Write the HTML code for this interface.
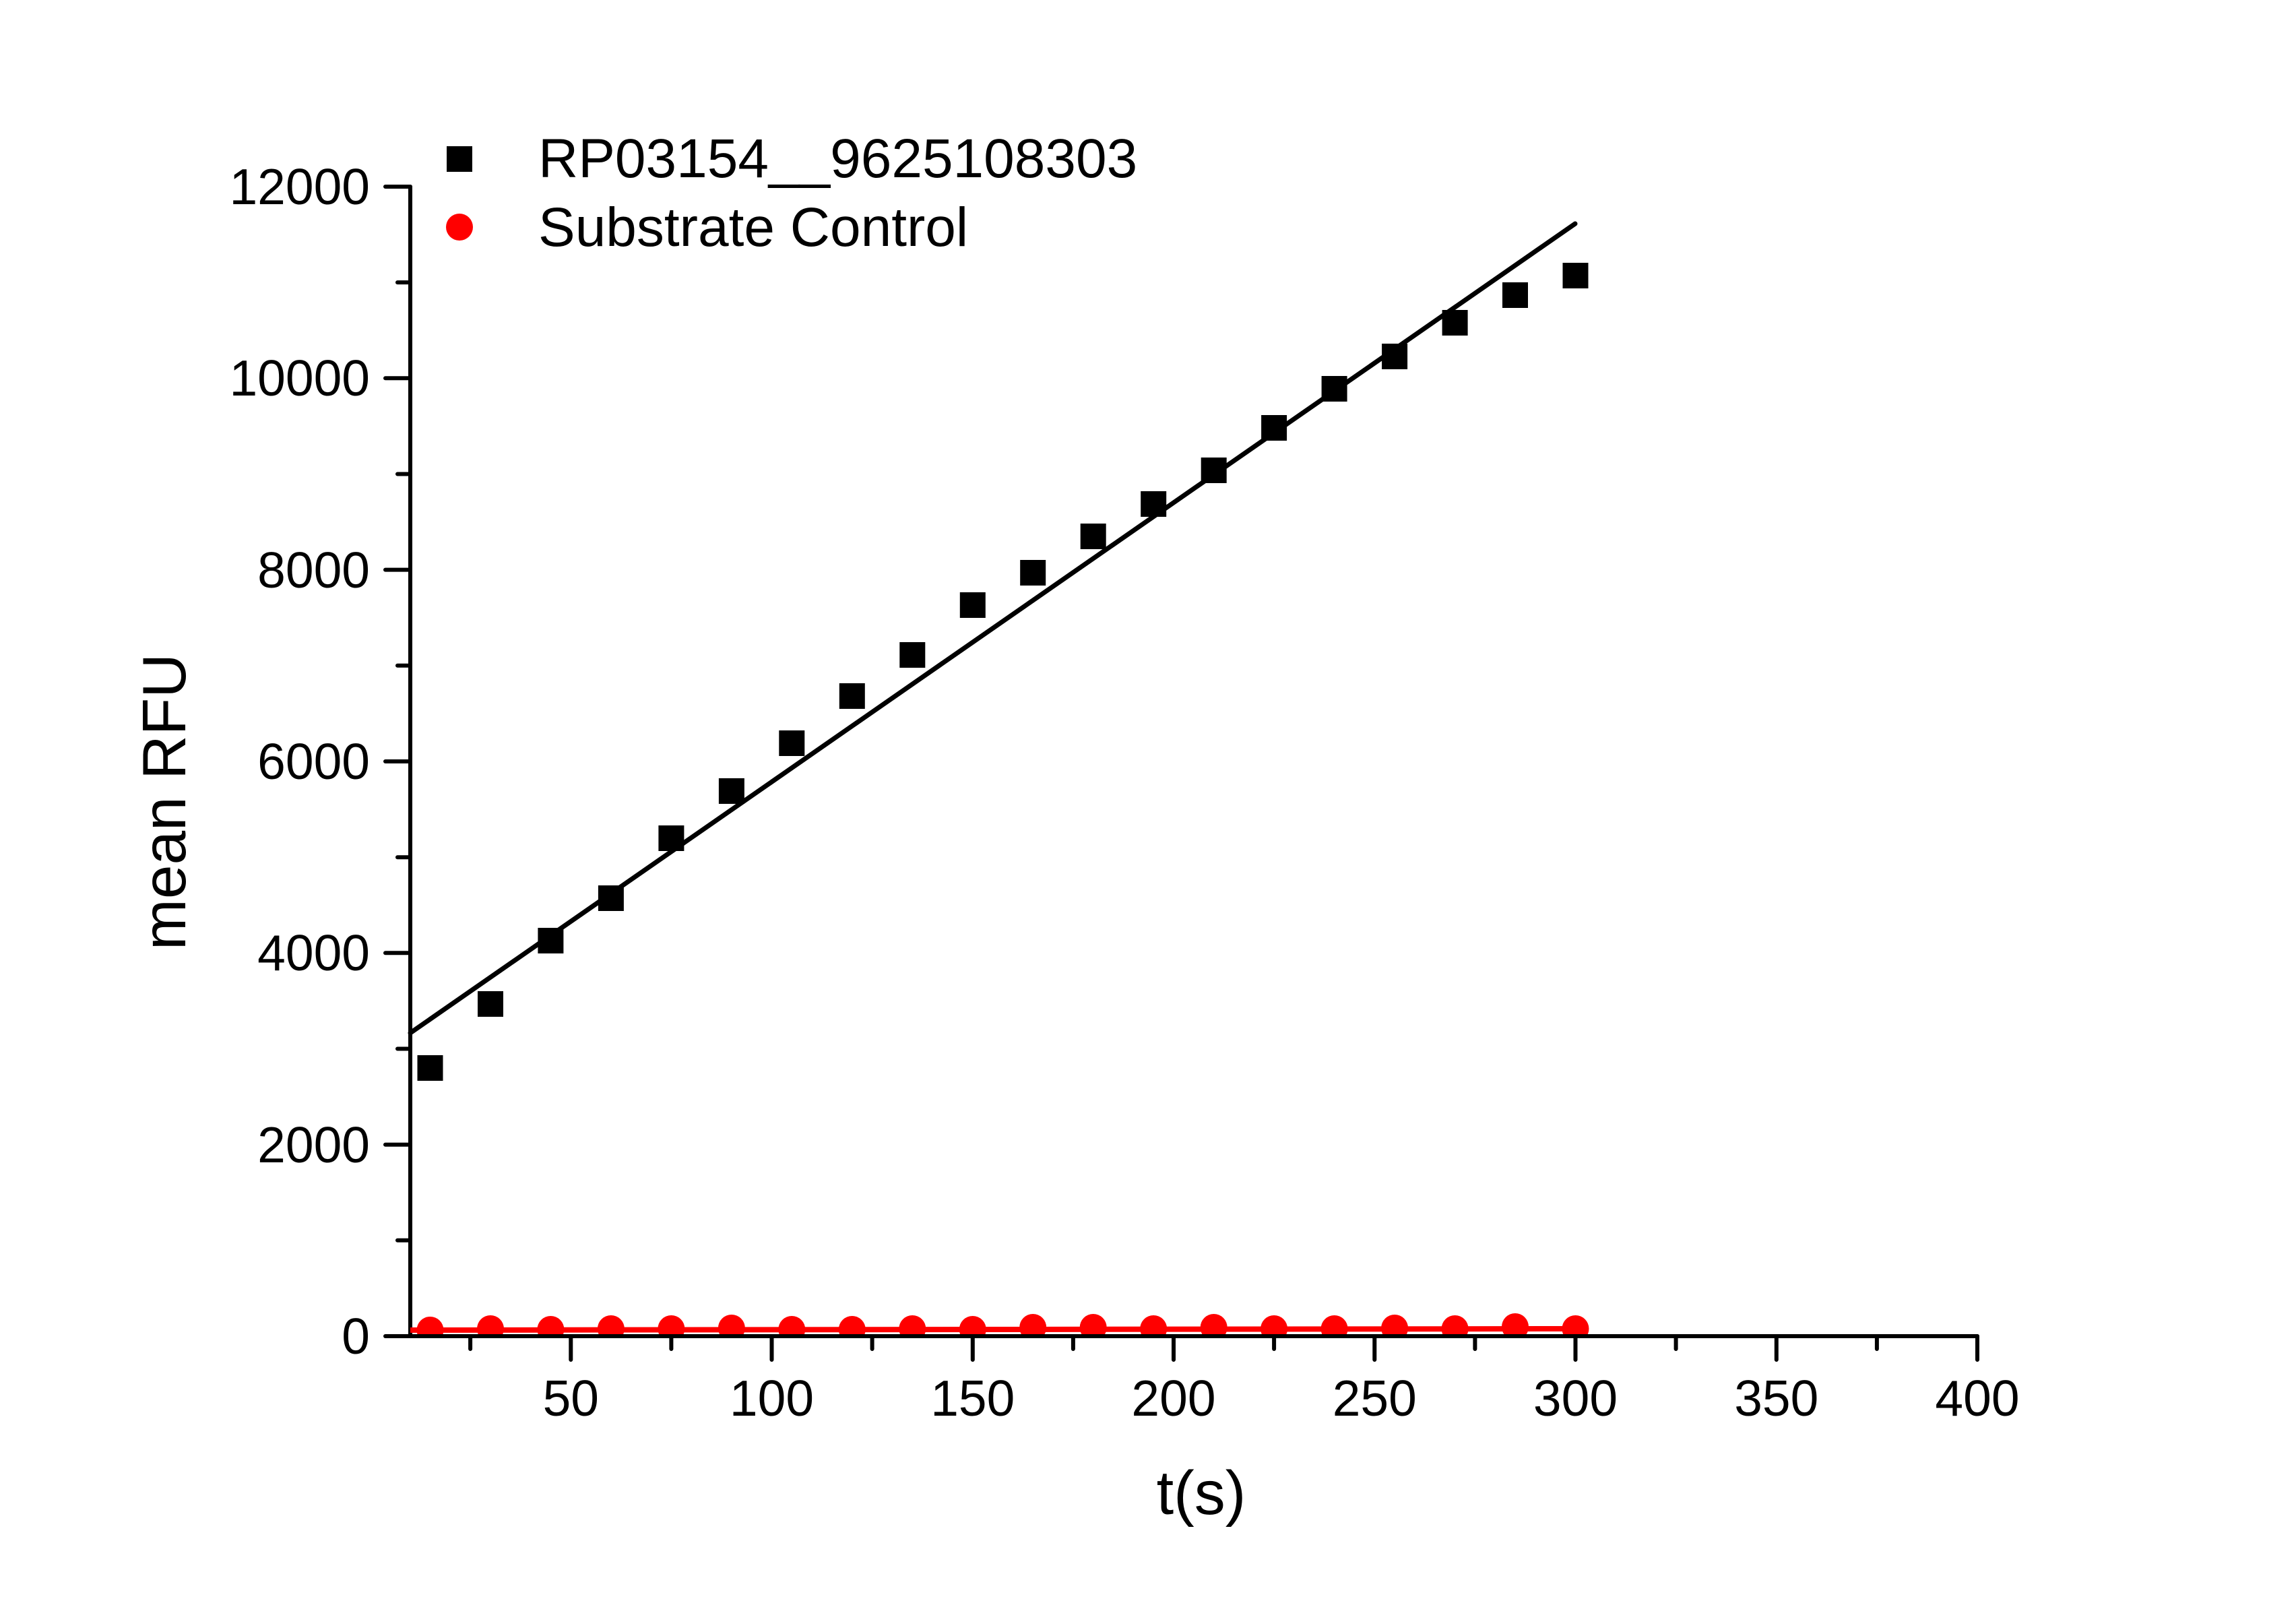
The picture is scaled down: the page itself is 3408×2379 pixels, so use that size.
<!DOCTYPE html>
<html><head><meta charset="utf-8"><style>html,body{margin:0;padding:0;background:#fff}svg{display:block}</style></head>
<body>
<svg width="3408" height="2379" viewBox="0 0 3408 2379" xmlns="http://www.w3.org/2000/svg" font-family="Liberation Sans, Arial, sans-serif">
<rect width="3408" height="2379" fill="#fff"/>
<defs><clipPath id="c"><rect x="609" y="200" width="2400" height="1780"/></clipPath></defs>
<g stroke="#000" stroke-width="6" stroke-linecap="round" fill="none">
<line x1="609" y1="277" x2="609" y2="1983"/>
<line x1="572" y1="1983" x2="2935" y2="1983"/>
<path d="M572 277H609M572 561.3H609M572 845.6H609M572 1130H609M572 1414.3H609M572 1698.7H609"/>
<path d="M590 419.1H609M590 703.5H609M590 987.8H609M590 1272.2H609M590 1556.5H609M590 1840.8H609"/>
<path d="M847.3 1983V2018M1145.5 1983V2018M1443.8 1983V2018M1742 1983V2018M2040.3 1983V2018M2338.5 1983V2018M2636.8 1983V2018M2935 1983V2018"/>
<path d="M698.1 1983V2002M996.4 1983V2002M1294.6 1983V2002M1592.9 1983V2002M1891.1 1983V2002M2189.4 1983V2002M2487.6 1983V2002M2785.9 1983V2002"/>
<line x1="609" y1="1533" x2="2338" y2="332" stroke-width="7"/>
</g>
<g font-size="75" fill="#000" text-anchor="end">
<text x="549" y="303">12000</text><text x="549" y="587">10000</text><text x="549" y="872">8000</text><text x="549" y="1156">6000</text><text x="549" y="1440">4000</text><text x="549" y="1725">2000</text><text x="549" y="2009">0</text>
</g>
<g font-size="75" fill="#000" text-anchor="middle">
<text x="847.3" y="2101">50</text><text x="1145.5" y="2101">100</text><text x="1443.8" y="2101">150</text><text x="1742" y="2101">200</text><text x="2040.3" y="2101">250</text><text x="2338.5" y="2101">300</text><text x="2636.8" y="2101">350</text><text x="2935" y="2101">400</text>
</g>
<text x="1783" y="2247" font-size="92" text-anchor="middle">t(s)</text>
<text transform="translate(275,1190) rotate(-90)" font-size="91" text-anchor="middle">mean RFU</text>
<g fill="#000">
<rect x="619.5" y="1566" width="38" height="38"/><rect x="709" y="1471" width="38" height="38"/><rect x="798.4" y="1377" width="38" height="38"/><rect x="887.9" y="1314" width="38" height="38"/><rect x="977.4" y="1225" width="38" height="38"/><rect x="1066.9" y="1155" width="38" height="38"/><rect x="1156.3" y="1084" width="38" height="38"/><rect x="1245.8" y="1014" width="38" height="38"/><rect x="1335.3" y="953" width="38" height="38"/><rect x="1424.8" y="879" width="38" height="38"/><rect x="1514.2" y="831" width="38" height="38"/><rect x="1603.7" y="777" width="38" height="38"/><rect x="1693.2" y="729" width="38" height="38"/><rect x="1782.7" y="679" width="38" height="38"/><rect x="1872.1" y="616" width="38" height="38"/><rect x="1961.6" y="558" width="38" height="38"/><rect x="2051.1" y="510" width="38" height="38"/><rect x="2140.6" y="460" width="38" height="38"/><rect x="2230" y="419" width="38" height="38"/><rect x="2319.5" y="390" width="38" height="38"/>
</g>
<g clip-path="url(#c)" fill="#f00">
<line x1="609" y1="1974" x2="2338" y2="1972" stroke="#f00" stroke-width="8"/>
<circle cx="638.5" cy="1974" r="20"/><circle cx="728" cy="1972" r="20"/><circle cx="817.4" cy="1973" r="20"/><circle cx="906.9" cy="1972" r="20"/><circle cx="996.4" cy="1972" r="20"/><circle cx="1085.9" cy="1971" r="20"/><circle cx="1175.3" cy="1973" r="20"/><circle cx="1264.8" cy="1973" r="20"/><circle cx="1354.3" cy="1972" r="20"/><circle cx="1443.8" cy="1973" r="20"/><circle cx="1533.2" cy="1970" r="20"/><circle cx="1622.7" cy="1970" r="20"/><circle cx="1712.2" cy="1972" r="20"/><circle cx="1801.7" cy="1970" r="20"/><circle cx="1891.1" cy="1972" r="20"/><circle cx="1980.6" cy="1972" r="20"/><circle cx="2070.1" cy="1971" r="20"/><circle cx="2159.6" cy="1972" r="20"/><circle cx="2249" cy="1969" r="20"/><circle cx="2338.5" cy="1972" r="20"/>
</g>
<rect x="663" y="217" width="38" height="38" fill="#000"/>
<circle cx="682" cy="337" r="20" fill="#f00"/>
<text x="799" y="263" font-size="82">RP03154__9625108303</text>
<text x="799" y="365" font-size="82">Substrate Control</text>
</svg>
</body></html>
